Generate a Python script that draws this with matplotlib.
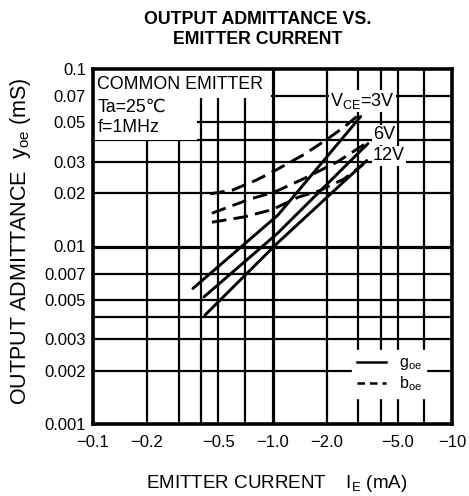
import matplotlib
matplotlib.use('Agg')
import matplotlib.pyplot as plt
from matplotlib.lines import Line2D
from matplotlib.patches import Rectangle

plt.rcParams['font.family'] = ['Liberation Sans', 'DejaVu Sans']

# emitter current |IE| (mA) -> admittance (mS)
ie_goe_3v = [0.36, 1.07, 3.1]
goe_3v = [0.0058, 0.0150, 0.054]
ie_goe_6v = [0.415, 1.07, 3.4]
goe_6v = [0.0052, 0.0119, 0.038]
ie_goe_12v = [0.42, 1.07, 3.35]
goe_12v = [0.0041, 0.0105, 0.0305]

ie_boe_3v = [0.45, 0.6, 0.8, 1.0, 1.5, 2.0, 2.5, 2.95]
boe_3v = [0.0198, 0.0208, 0.0235, 0.0263, 0.033, 0.040, 0.047, 0.054]
ie_boe_6v = [0.46, 0.75, 1.03, 1.52, 2.3, 3.3]
boe_6v = [0.0154, 0.0185, 0.0203, 0.0243, 0.030, 0.038]
ie_boe_12v = [0.46, 0.7, 0.99, 1.4, 1.8, 2.5, 3.2]
boe_12v = [0.0137, 0.0147, 0.0161, 0.019, 0.0205, 0.024, 0.029]

x_ticks = [0.1, 0.2, 0.5, 1.0, 2.0, 5.0, 10]
x_labels = ['\u22120.1', '\u22120.2', '\u22120.5', '\u22121.0', '\u22122.0', '\u22125.0', '\u221210']
y_ticks = [0.001, 0.002, 0.003, 0.005, 0.007, 0.01, 0.02, 0.03, 0.05, 0.07, 0.1]
y_labels = ['0.001', '0.002', '0.003', '0.005', '0.007', '0.01', '0.02', '0.03', '0.05', '0.07', '0.1']
grid_x = [0.2, 0.3, 0.4, 0.5, 0.7, 2, 3, 4, 5, 7]
grid_y = [0.002, 0.003, 0.004, 0.005, 0.007, 0.02, 0.03, 0.04, 0.05, 0.07]

fig = plt.figure(figsize=(4.69, 4.96), dpi=100)
ax = fig.add_axes([93/469, 1-424/496, 359/469, 355/496])
ax.set_xscale('log')
ax.set_yscale('log')
ax.set_xlim(0.1, 10)
ax.set_ylim(0.001, 0.1)

# grille
for gx in grid_x:
    ax.axvline(gx, color='k', lw=1.6, zorder=1)
for gy in grid_y:
    ax.axhline(gy, color='k', lw=1.6, zorder=1)
ax.axvline(1.0, color='k', lw=2.3, zorder=1)
ax.axhline(0.01, color='k', lw=2.3, zorder=1)

# courbes
for xs, ys in [(ie_goe_3v, goe_3v), (ie_goe_6v, goe_6v), (ie_goe_12v, goe_12v)]:
    ax.plot(xs, ys, color='k', lw=2.1, solid_capstyle='round', zorder=3)
for xs, ys in [(ie_boe_3v, boe_3v), (ie_boe_6v, boe_6v), (ie_boe_12v, boe_12v)]:
    ax.plot(xs, ys, color='k', lw=2.1, dashes=(5, 2.5), zorder=3)

ax.set_xticks(x_ticks)
ax.set_xticklabels(x_labels)
ax.set_yticks(y_ticks)
ax.set_yticklabels(y_labels)
ax.minorticks_off()
ax.tick_params(length=0, labelsize=12)
ax.tick_params(axis='x', pad=8)
ax.tick_params(axis='y', pad=5)
for s in ax.spines.values():
    s.set_linewidth(2.6)
    s.set_zorder(5)

# cartouche en haut a gauche
ax.add_patch(Rectangle((0, 0.918), 0.497, 0.082, transform=ax.transAxes,
                       facecolor='white', edgecolor='none', zorder=2))
ax.add_patch(Rectangle((0, 0.80), 0.29, 0.12, transform=ax.transAxes,
                       facecolor='white', edgecolor='none', zorder=2))
ax.text(0.012, 0.955, 'COMMON EMITTER', transform=ax.transAxes, fontsize=12.8,
        va='center', ha='left', zorder=4)
ax.text(0.012, 0.893, 'Ta=25\u2103', transform=ax.transAxes, fontsize=12.8,
        va='center', ha='left', zorder=4)
ax.text(0.012, 0.834, 'f=1MHz', transform=ax.transAxes, fontsize=12.8,
        va='center', ha='left', zorder=4)

# etiquettes des courbes
wb = dict(facecolor='white', edgecolor='none', pad=1)
ax.text(2.09, 0.066, r'V$\mathregular{_{CE}}$=3V', fontsize=13, va='center', ha='left', bbox=wb, zorder=4)
ax.text(3.63, 0.0425, '6V', fontsize=13, va='center', ha='left', bbox=wb, zorder=4)
ax.text(3.63, 0.0324, '12V', fontsize=13, va='center', ha='left', bbox=wb, zorder=4)

# legende
handles = [Line2D([], [], color='k', lw=1.8), Line2D([], [], color='k', lw=1.8, dashes=(3, 2))]
leg = ax.legend(handles, [r'$\mathregular{g_{oe}}$', r'$\mathregular{b_{oe}}$'],
                loc='upper left', bbox_to_anchor=(0.70, 0.23), fontsize=11.5,
                frameon=True, framealpha=1, facecolor='white', edgecolor='white',
                fancybox=False, handlelength=1.8, handletextpad=0.8,
                borderpad=0.3, labelspacing=0.15)
leg.set_zorder(4)

fig.text(258/469, 1-20/496, 'OUTPUT ADMITTANCE VS.', fontsize=12.8, fontweight='bold',
         ha='center', va='center')
fig.text(258/469, 1-40/496, 'EMITTER CURRENT', fontsize=12.8, fontweight='bold',
         ha='center', va='center')
fig.text(21/469, 1-241/496, r'OUTPUT ADMITTANCE  $\mathregular{y_{oe}}$ (mS)', fontsize=15.5,
         rotation=90, ha='center', va='center')
fig.text(277/469, 1-483/496, r'EMITTER CURRENT    $\mathregular{I_E}$ (mA)', fontsize=13.5,
         ha='center', va='center')

fig.savefig('out.png', dpi=100)
